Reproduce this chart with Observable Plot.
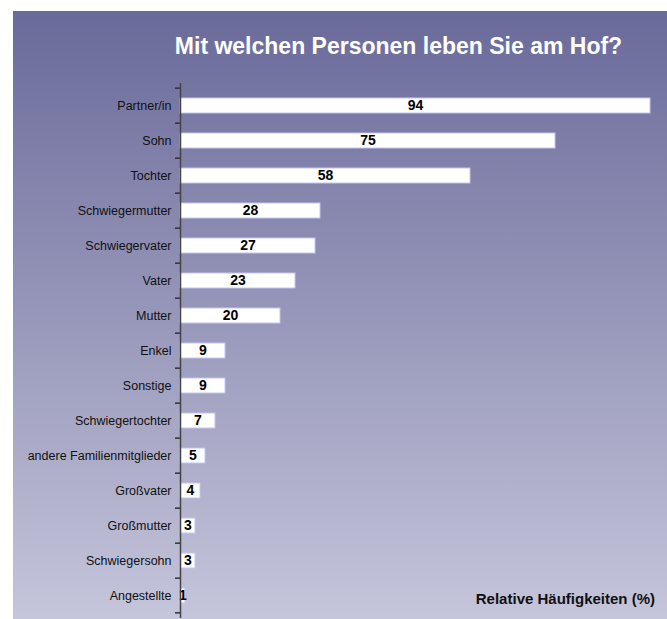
<!DOCTYPE html>
<html>
<head>
<meta charset="utf-8">
<script src="https://cdn.jsdelivr.net/npm/d3@7"></script>
<script src="https://cdn.jsdelivr.net/npm/@observablehq/plot@0.6"></script>
<style>
  html, body { margin: 0; padding: 0; background: #ffffff; }
  #wrap { position: relative; width: 667px; height: 619px; overflow: hidden; }
  #panel { position: absolute; left: 13px; top: 11px; width: 654px; height: 608px;
    background: linear-gradient(to bottom, #6a6a9a 0%, #9797ba 50%, #c5c5db 100%); }
  #title { position: absolute; left: 130px; width: 537px; top: 33px; text-align: center;
    font-family: "Liberation Sans Narrow", "Arial Narrow", sans-serif; font-weight: bold;
    font-size: 23px; color: #ffffff; }
  #caption { position: absolute; right: 12px; top: 590px;
    font-family: "Liberation Sans Narrow", "Arial Narrow", sans-serif; font-weight: bold;
    font-size: 15px; color: #111; }
  #chart { position: absolute; left: 0; top: 0; }
</style>
</head>
<body>
<div id="wrap">
  <div id="panel"></div>
  <div id="title">Mit welchen Personen leben Sie am Hof?</div>
  <div id="chart"></div>
  <div id="caption">Relative Häufigkeiten (%)</div>
</div>
<script>
const categories = ["Partner/in", "Sohn", "Tochter", "Schwiegermutter", "Schwiegervater", "Vater", "Mutter", "Enkel", "Sonstige", "Schwiegertochter", "andere Familienmitglieder", "Großvater", "Großmutter", "Schwiegersohn", "Angestellte"];
const values = [94, 75, 58, 28, 27, 23, 20, 9, 9, 7, 5, 4, 3, 3, 1];

const data = categories.map((c, i) => ({category: c, value: values[i]}));
const step = (619 - 83 - 1) / categories.length;
const lastCat = categories.slice(-1);

const chart = Plot.plot({
  width: 667,
  height: 619,
  marginLeft: 180,
  marginRight: 17,
  marginTop: 83,
  marginBottom: 1,
  style: {background: "transparent", fontFamily: "'Liberation Sans Narrow', 'Arial Narrow', sans-serif", overflow: "visible"},
  x: {domain: [0, 94], axis: null},
  y: {domain: categories, paddingInner: 0.58, paddingOuter: 0.29, label: null},
  marks: [
    Plot.barX(data, {y: "category", x: "value", fill: "#ffffff", stroke: "#c4c4f2", strokeWidth: 1}),
    Plot.text(data, {y: "category", x: d => d.value / 2, text: d => String(d.value), fontWeight: "bold", fontSize: 14, fill: "#000"}),
    Plot.axisY({tickSize: 0, tickPadding: 9, fontSize: 12.5, fill: "#111", label: null}),
    Plot.ruleY(categories, {y: d => d, x1: () => -1, x2: () => 0, stroke: "#333", strokeWidth: 1.5, dy: -step / 2}),
    Plot.ruleY(lastCat, {y: d => d, x1: () => -1, x2: () => 0, stroke: "#333", strokeWidth: 1.5, dy: step / 2 - 1}),
    Plot.ruleX([0], {stroke: "#444", strokeWidth: 1.5})
  ]
});
document.getElementById("chart").appendChild(chart);
</script>
</body>
</html>
